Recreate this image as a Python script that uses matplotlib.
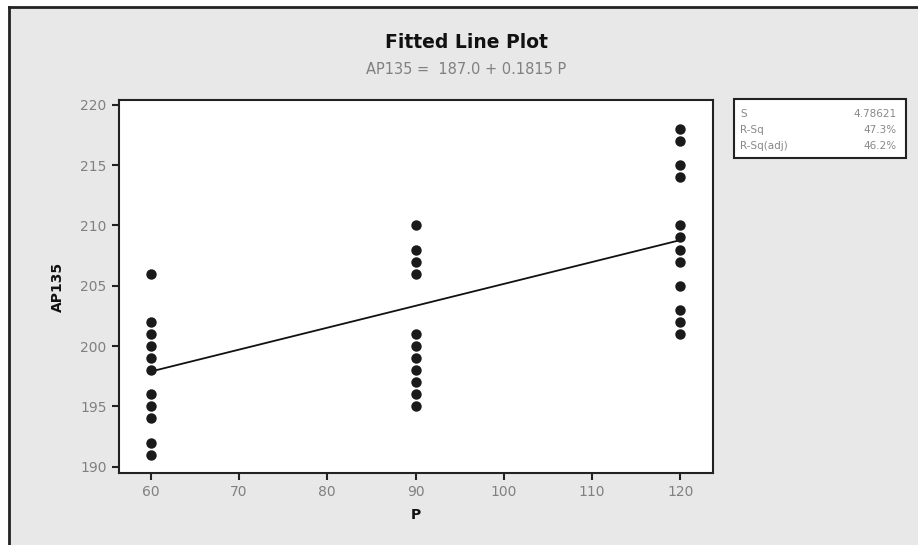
import matplotlib.pyplot as plt
import matplotlib.patches as patches
import numpy as np

# observed AP135 values at each P level
p_levels = [60, 90, 120]
ap_60 = [206, 202, 201, 200, 199, 198, 196, 195, 194, 192, 191]
ap_90 = [210, 208, 207, 206, 201, 200, 199, 198, 197, 196, 195]
ap_120 = [218, 217, 215, 214, 210, 209, 208, 207, 205, 203, 202, 201]

# regression summary
intercept = 187.0
slope = 0.1815
stat_names = ["S", "R-Sq", "R-Sq(adj)"]
stat_values = ["4.78621", "47.3%", "46.2%"]

xticks = [60, 70, 80, 90, 100, 110, 120]
yticks = [190, 195, 200, 205, 210, 215, 220]

W, H = 918, 545
fig = plt.figure(figsize=(W / 100, H / 100), dpi=100)
fig.patch.set_facecolor('white')

# gray panel with dark left/top edge
panel = patches.Rectangle((9 / W, 0), 1, 1 - 7 / H, transform=fig.transFigure,
                          facecolor='#e8e8e8', edgecolor='none', zorder=-5)
fig.add_artist(panel)
fig.add_artist(plt.Line2D([9 / W, 9 / W], [0, 1 - 7 / H], transform=fig.transFigure,
                          color='#222222', lw=2, zorder=-4))
fig.add_artist(plt.Line2D([9 / W, 1], [1 - 7 / H, 1 - 7 / H], transform=fig.transFigure,
                          color='#222222', lw=2, zorder=-4))

ax = fig.add_axes([119 / W, 1 - 473 / H, (713 - 119) / W, (473 - 100) / H])
ax.set_facecolor('white')

groups = [ap_60, ap_90, ap_120]
for p, vals in zip(p_levels, groups):
    ax.plot([p] * len(vals), vals, 'o', color='#1a1a1a', markersize=7.5,
            markeredgewidth=0, zorder=3)

xs = np.array([p_levels[0], p_levels[-1]])
ax.plot(xs, intercept + slope * xs, color='#111111', lw=1.3, zorder=2)

ax.set_xlim(56.4, 123.7)
ax.set_ylim(189.48, 220.39)
ax.set_xticks(xticks)
ax.set_yticks(yticks)
ax.tick_params(direction='out', length=5, width=1.5, color='#222222',
               labelcolor='#808080', labelsize=10, pad=4)
for s in ax.spines.values():
    s.set_linewidth(1.5)
    s.set_color('#222222')

ax.set_xlabel('P', fontsize=10, fontweight='bold', color='#111111', labelpad=6)
ax.set_ylabel('AP135', fontsize=10, fontweight='bold', color='#111111', labelpad=11)

fig.text(466 / W, 1 - 42 / H, 'Fitted Line Plot', ha='center', va='center',
         fontsize=13.5, fontweight='bold', color='#111111')
fig.text(466 / W, 1 - 70 / H, 'AP135 =  %.1f + %.4f P' % (intercept, slope),
         ha='center', va='center', fontsize=10.5, color='#808080')

# statistics box
box = patches.Rectangle((734 / W, 1 - 158 / H), (906 - 734) / W, (158 - 99) / H,
                        transform=fig.transFigure, facecolor='white',
                        edgecolor='#222222', lw=1.5, zorder=5)
fig.add_artist(box)
for i, (name, val) in enumerate(zip(stat_names, stat_values)):
    y = 1 - (114 + 16 * i) / H
    fig.text(740 / W, y, name, ha='left', va='center', fontsize=7.5, color='#888888', zorder=6)
    fig.text(897 / W, y, val, ha='right', va='center', fontsize=7.5, color='#888888', zorder=6)

fig.savefig('out.png', dpi=100)
